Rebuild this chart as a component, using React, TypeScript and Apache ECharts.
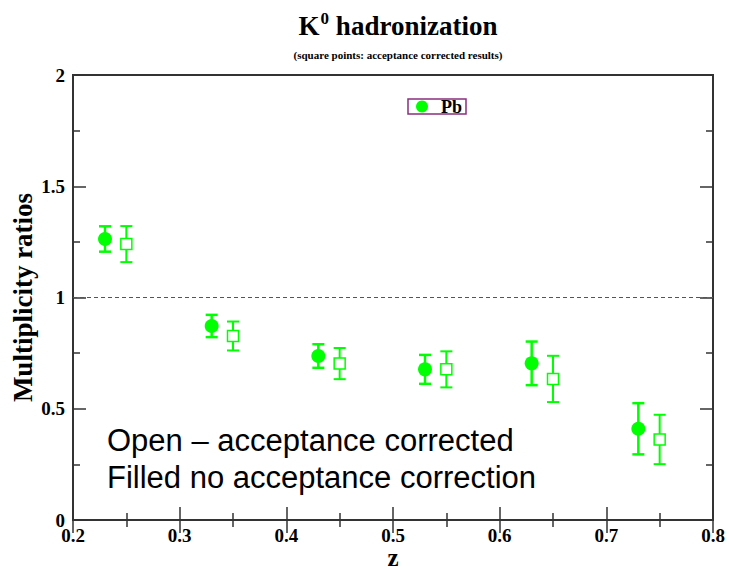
import React, { useEffect, useRef } from "react";
import * as echarts from "echarts";

const zFilled = [0.23, 0.33, 0.43, 0.53, 0.63, 0.73];
const ratioFilled = [1.263, 0.872, 0.737, 0.677, 0.704, 0.41];
const errFilled = [0.057, 0.05, 0.053, 0.065, 0.098, 0.115];

const zOpen = [0.25, 0.35, 0.45, 0.55, 0.65, 0.75];
const ratioOpen = [1.24, 0.827, 0.703, 0.677, 0.634, 0.362];
const errOpen = [0.081, 0.065, 0.07, 0.081, 0.104, 0.111];

const xTicks = [0.2, 0.3, 0.4, 0.5, 0.6, 0.7, 0.8];
const yTicks = [0, 0.5, 1, 1.5, 2];

const GREEN = "#00ff00";
const AXIS = "#333333";
const SERIF = "'Liberation Serif', 'Times New Roman', serif";

function errData(xs: number[], ys: number[], es: number[]) {
  return xs.map((x, i) => [x, ys[i] - es[i], ys[i] + es[i]]);
}

function errorSeries(data: number[][], width: number) {
  return {
    type: "custom",
    silent: true,
    z: 3,
    renderItem: (params: any, api: any) => {
      const x = api.value(0);
      const lo = api.coord([x, api.value(1)]);
      const hi = api.coord([x, api.value(2)]);
      const cap = 6;
      const style = { stroke: GREEN, lineWidth: width };
      return {
        type: "group",
        children: [
          { type: "line", shape: { x1: lo[0], y1: lo[1], x2: hi[0], y2: hi[1] }, style },
          { type: "line", shape: { x1: lo[0] - cap, y1: lo[1], x2: lo[0] + cap, y2: lo[1] }, style },
          { type: "line", shape: { x1: hi[0] - cap, y1: hi[1], x2: hi[0] + cap, y2: hi[1] }, style },
        ],
      };
    },
    data,
  };
}

export default function App() {
  const ref = useRef<HTMLDivElement>(null);
  useEffect(() => {
    document.body.style.margin = "0";
    const chart = echarts.init(ref.current!, null, { renderer: "svg" });
    const tickLabel = {
      color: "#000",
      fontFamily: SERIF,
      fontWeight: "bold",
      fontSize: 19,
      lineHeight: 16,
    };
    const tickStyle = { color: AXIS, width: 1.5 };
    chart.setOption({
      animation: false,
      backgroundColor: "#fff",
      title: {
        text: "{k|K}{sup|0}{k| hadronization}",
        subtext: "(square points: acceptance corrected results)",
        left: 393,
        textAlign: "center",
        top: 5,
        itemGap: 10,
        textStyle: {
          rich: {
            k: { fontFamily: SERIF, fontWeight: "bold", fontSize: 27, color: "#000", verticalAlign: "bottom" },
            sup: { fontFamily: SERIF, fontWeight: "bold", fontSize: 17, color: "#000", verticalAlign: "top", padding: [0, 0, 12, 1] },
          },
        },
        subtextStyle: { fontFamily: SERIF, fontWeight: "bold", fontSize: 11, color: "#000" },
      },
      grid: {
        left: 73,
        right: 16,
        top: 75,
        bottom: 48,
        outerBoundsMode: "none",
        containLabel: false,
        show: true,
        borderColor: AXIS,
        borderWidth: 2,
        backgroundColor: "transparent",
      },
      xAxis: [
        {
          type: "value",
          min: 0.2,
          max: 0.8,
          interval: 0.1,
          name: "z",
          nameLocation: "middle",
          nameGap: 28,
          nameMoveOverlap: false,
          nameTextStyle: { fontFamily: SERIF, fontWeight: "bold", fontSize: 25, lineHeight: 18, color: "#000" },
          axisLine: { show: true, lineStyle: { color: AXIS, width: 2 } },
          axisTick: { show: true, inside: true, length: 13, lineStyle: tickStyle },
          minorTick: { show: true, splitNumber: 2, length: 7, lineStyle: tickStyle },
          splitLine: { show: false },
          axisLabel: { ...tickLabel, margin: 7, formatter: (v: number) => xTicks.find((t) => Math.abs(t - v) < 1e-6)?.toString() ?? "" },
        },
        {
          type: "value",
          position: "top",
          min: 0.2,
          max: 0.8,
          interval: 0.1,
          axisLine: { show: true, lineStyle: { color: AXIS, width: 2 } },
          axisTick: { show: true, inside: true, length: 13, lineStyle: tickStyle },
          minorTick: { show: true, splitNumber: 2, length: 7, lineStyle: tickStyle },
          splitLine: { show: false },
          axisLabel: { show: false },
        },
      ],
      yAxis: [
        {
          type: "value",
          min: 0,
          max: 2,
          interval: 0.5,
          name: "Multiplicity ratios",
          nameLocation: "middle",
          nameGap: 37,
          nameMoveOverlap: false,
          nameTextStyle: { fontFamily: SERIF, fontWeight: "bold", fontSize: 27, color: "#000" },
          axisLine: { show: true, lineStyle: { color: AXIS, width: 2 } },
          axisTick: { show: true, inside: true, length: 13, lineStyle: tickStyle },
          minorTick: { show: true, splitNumber: 2, length: 7, lineStyle: tickStyle },
          splitLine: { show: false },
          axisLabel: { ...tickLabel, margin: 8, formatter: (v: number) => yTicks.find((t) => Math.abs(t - v) < 1e-6)?.toString() ?? "" },
        },
        {
          type: "value",
          position: "right",
          min: 0,
          max: 2,
          interval: 0.5,
          axisLine: { show: true, lineStyle: { color: AXIS, width: 2 } },
          axisTick: { show: true, inside: true, length: 13, lineStyle: tickStyle },
          minorTick: { show: true, splitNumber: 2, length: 7, lineStyle: tickStyle },
          splitLine: { show: false },
          axisLabel: { show: false },
        },
      ],
      graphic: [
        {
          type: "rect",
          shape: { x: 408, y: 99, width: 58, height: 15 },
          style: { fill: "#fff", stroke: "#8b2f7f", lineWidth: 1.5 },
          z: 10,
        },
        {
          type: "circle",
          shape: { cx: 422, cy: 106.5, r: 6 },
          style: { fill: GREEN },
          z: 11,
        },
        {
          type: "text",
          x: 441,
          y: 106.5,
          style: { text: "Pb", fontFamily: SERIF, fontWeight: "bold", fontSize: 18, fill: "#000", verticalAlign: "middle" },
          z: 11,
        },
        {
          type: "text",
          x: 107,
          y: 459,
          style: {
            text: "Open – acceptance corrected\nFilled no acceptance correction",
            fontFamily: "'Liberation Sans', Arial, sans-serif",
            fontSize: 31,
            lineHeight: 37,
            fill: "#000",
            verticalAlign: "middle",
          },
          z: 11,
        },
      ],
      series: [
        {
          type: "line",
          data: [],
          markLine: {
            silent: true,
            symbol: "none",
            label: { show: false },
            lineStyle: { color: "#555", type: [4, 3], width: 1.2 },
            data: [{ yAxis: 1 }],
          },
        },
        errorSeries(errData(zFilled, ratioFilled, errFilled), 2.5),
        errorSeries(errData(zOpen, ratioOpen, errOpen), 2),
        {
          type: "scatter",
          symbol: "circle",
          symbolSize: 14,
          z: 5,
          itemStyle: { color: GREEN, opacity: 1 },
          data: zFilled.map((x, i) => [x, ratioFilled[i]]),
        },
        {
          type: "scatter",
          symbol: "rect",
          symbolSize: 11,
          z: 5,
          itemStyle: { color: "#fff", borderColor: GREEN, borderWidth: 1.5, opacity: 1 },
          data: zOpen.map((x, i) => [x, ratioOpen[i]]),
        },
      ],
    });
    return () => chart.dispose();
  }, []);
  return <div ref={ref} style={{ width: 729, height: 568, position: "absolute", left: 0, top: 0 }} />;
}
